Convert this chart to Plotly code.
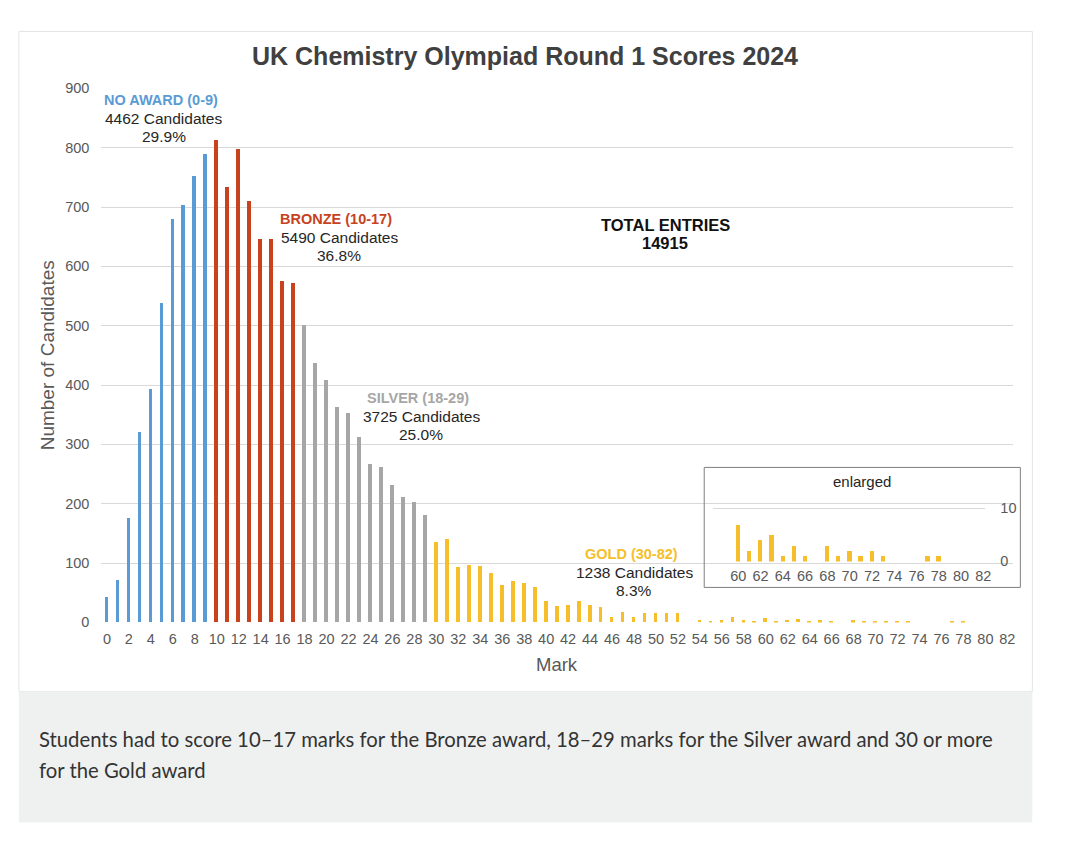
import plotly.graph_objects as go

W, H = 1080, 843

# ---- data ----
marks = list(range(0, 83))
no_award = [43, 70, 176, 320, 392, 538, 679, 703, 752, 789]            # marks 0-9
bronze = [813, 734, 797, 709, 645, 646, 574, 572]                      # marks 10-17
silver = [500, 437, 408, 363, 352, 311, 267, 262, 231, 211, 203, 180]  # marks 18-29
gold = [135, 140, 92, 96, 95, 83, 63, 69, 66, 59,                      # marks 30-39
        35, 27, 29, 36, 29, 26, 9, 17, 9, 16,                          # marks 40-49
        16, 16, 16, 0, 4, 2, 3, 9, 3, 2,                               # marks 50-59
        7, 2, 4, 5, 1, 3, 1, 0, 3, 1,                                  # marks 60-69
        2, 1, 2, 1, 0, 0, 0, 1, 1, 0,                                  # marks 70-79
        0, 0, 0]                                                       # marks 80-82
counts = no_award + bronze + silver + gold

groups = [
    ("NO AWARD (0-9)", 0, 9, "#5B9BD5"),
    ("BRONZE (10-17)", 10, 17, "#C8421E"),
    ("SILVER (18-29)", 18, 29, "#A6A6A6"),
    ("GOLD (30-82)", 30, 82, "#F5BE2A"),
]
group_counts = [4462, 5490, 3725, 1238]
group_pct = ["29.9%", "36.8%", "25.0%", "8.3%"]
total_entries = 14915

x_ticks = list(range(0, 83, 2))
inset_ticks = list(range(60, 83, 2))

# compensation for how the page is rendered in the screenshot
SX, OX = 0.994, 8.1
SY, OY = 0.981, 15.6


def fx(x):
    return ((x - OX) / SX) / W


def fy(y):
    return 1 - ((y - OY) / SY) / H


def px(x, y):
    return fx(x), fy(y)


fig = go.Figure()

for (name, lo, hi, col) in groups:
    xs = [m for m in marks if lo <= m <= hi]
    ys = [counts[m] for m in xs]
    fig.add_trace(go.Bar(x=xs, y=ys, marker=dict(color=col, line=dict(width=0)),
                         width=0.34, name=name, showlegend=False,
                         xaxis="x", yaxis="y"))

# inset (enlarged)
inset_x = [m for m in marks if m >= 60]
inset_y = [counts[m] for m in inset_x]
fig.add_trace(go.Bar(x=inset_x, y=inset_y, marker=dict(color="#F5BE2A", line=dict(width=0)),
                     width=0.38, showlegend=False, xaxis="x2", yaxis="y2"))

tickfont = dict(family="Liberation Sans, Arial", size=14.5, color="#595959")

fig.update_layout(
    width=W, height=H,
    margin=dict(l=0, r=0, t=0, b=0),
    paper_bgcolor="white", plot_bgcolor="rgba(0,0,0,0)",
    bargap=0,
    xaxis=dict(domain=[fx(101.5), fx(1012.5)], range=[-0.5, 82.5],
               tickvals=x_ticks, ticktext=[str(t) for t in x_ticks],
               tickfont=tickfont, showgrid=False, zeroline=False,
               showline=False, ticks="", ticklabelstandoff=6, anchor="y"),
    yaxis=dict(domain=[fy(622), fy(88)], range=[0, 900],
               tickvals=list(range(0, 901, 100)), tickfont=tickfont,
               showgrid=True, gridcolor="#D9D9D9", gridwidth=1,
               zeroline=False, showline=False, ticks="",
               ticklabelstandoff=11, anchor="x"),
    xaxis2=dict(domain=[fx(713), fx(985)], range=[57.75, 82.18],
                tickvals=inset_ticks, ticktext=[str(t) for t in inset_ticks],
                tickfont=tickfont, showgrid=False, zeroline=False,
                showline=False, ticks="", ticklabelstandoff=4, anchor="y2"),
    yaxis2=dict(domain=[fy(561), fy(497.4)], range=[0, 12],
                tickvals=[0, 10], tickfont=tickfont, side="right",
                showgrid=True, gridcolor="#D9D9D9", zeroline=False,
                showline=False, ticks="", ticklabelstandoff=14, anchor="x2"),
)

shapes = []
# card
x0, y0 = px(19, 31)
x1, y1 = px(1032, 691)
shapes.append(dict(type="rect", xref="paper", yref="paper", x0=x0, y0=y1, x1=x1, y1=y0,
                   line=dict(color="#E3E3E3", width=1), fillcolor="white", layer="below"))
# caption box
x0, y0 = px(19, 691)
x1, y1 = px(1032, 822)
shapes.append(dict(type="rect", xref="paper", yref="paper", x0=x0, y0=y1, x1=x1, y1=y0,
                   line=dict(width=0), fillcolor="#EFF1F1", layer="below"))
# inset box
x0, y0 = px(704, 467)
x1, y1 = px(1020, 587)
shapes.append(dict(type="rect", xref="paper", yref="paper", x0=x0, y0=y1, x1=x1, y1=y0,
                   line=dict(color="#7F7F7F", width=1), fillcolor="rgba(0,0,0,0)", layer="above"))
fig.update_layout(shapes=shapes)

ann = []


def add_text(x, y, text, size=14, color="#262626", bold=False, family="Liberation Sans, Arial",
             angle=0, xanchor="center"):
    ax, ay = px(x, y)
    t = f"<b>{text}</b>" if bold else text
    ann.append(dict(x=ax, y=ay, xref="paper", yref="paper", text=t, showarrow=False,
                    xanchor=xanchor, yanchor="middle", textangle=angle,
                    font=dict(family=family, size=size, color=color)))


add_text(525, 56, "UK Chemistry Olympiad Round 1 Scores 2024", size=25, color="#404040", bold=True)
add_text(47, 355, "Number of Candidates", size=19, color="#595959", angle=-90)
add_text(557, 664, "Mark", size=18.5, color="#595959")

label_pos = [(161, 100), (336, 219), (418, 398), (631, 554)]
for (name, lo, hi, col), n, pc, (lx, ly) in zip(groups, group_counts, group_pct, label_pos):
    add_text(lx, ly, name, size=14.5, color=col, bold=True)
    add_text(lx + 3, ly + 18, f"{n} Candidates", size=15.5)
    add_text(lx + 3, ly + 36, pc, size=15.5)

add_text(665, 225, "TOTAL ENTRIES", size=16.5, color="#111111", bold=True)
add_text(665, 243, str(total_entries), size=16.5, color="#111111", bold=True)
add_text(862, 481, "enlarged", size=15)

add_text(37, 739, "Students had to score 10–17 marks for the Bronze award, 18–29 marks for the Silver award and 30 or more",
         size=20.3, color="#333333", family="Lato, Noto Sans", xanchor="left")
add_text(37, 770, "for the Gold award", size=20.3, color="#333333", family="Lato, Noto Sans", xanchor="left")

fig.update_layout(annotations=ann)

fig.write_html("out.html")
